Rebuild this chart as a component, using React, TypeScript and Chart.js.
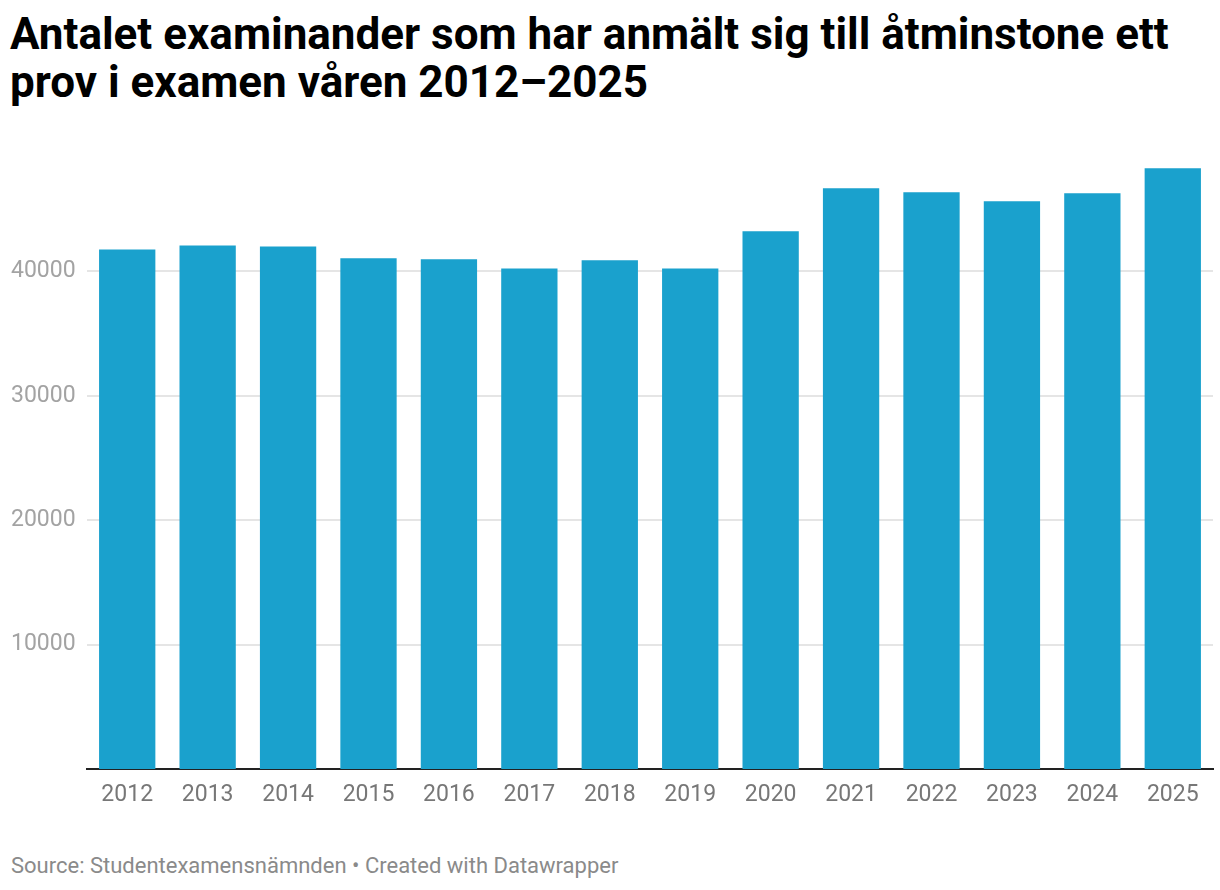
import React, { useEffect, useRef } from "react";
import { Chart, registerables } from "chart.js";

Chart.register(...registerables);

const years = ["2012", "2013", "2014", "2015", "2016", "2017", "2018", "2019", "2020", "2021", "2022", "2023", "2024", "2025"];
const candidates = [41770, 42090, 42010, 41050, 40970, 40240, 40890, 40240, 43220, 46680, 46360, 45630, 46280, 48290];
const yTicks = [10000, 20000, 30000, 40000];

const titleText = "Antalet examinander som har anmält sig till åtminstone ett prov i examen våren 2012–2025";
const sourceText = "Source: Studentexamensnämnden • Created with Datawrapper";

export default function App() {
  const ref = useRef<HTMLCanvasElement | null>(null);

  useEffect(() => {
    document.body.style.margin = "0";
    const ctx = ref.current!;
    const chart = new Chart(ctx, {
      type: "bar",
      data: {
        labels: years,
        datasets: [
          {
            data: candidates,
            backgroundColor: "#1aa1cd",
            barPercentage: 0.7,
            categoryPercentage: 1,
          },
        ],
      },
      options: {
        animation: false,
        responsive: false,
        maintainAspectRatio: false,
        layout: { padding: { left: 11, right: 7, top: 16, bottom: 0 } },
        plugins: { legend: { display: false }, tooltip: { enabled: false } },
        scales: {
          x: {
            grid: { display: false, drawTicks: false },
            border: { display: true, color: "#222222", width: 2 },
            ticks: {
              color: "#777777",
              font: { family: "Roboto", size: 23 },
              padding: 12,
              maxRotation: 0,
            },
            afterFit: (s: any) => {
              s.height = 62;
            },
          },
          y: {
            min: 0,
            max: 50000,
            border: { display: false },
            grid: { color: "#e5e5e5", lineWidth: 2, drawTicks: false },
            ticks: {
              color: "#a3a3a3",
              font: { family: "Roboto", size: 23 },
              crossAlign: "far",
              padding: 0,
              callback: (v: any) => String(v),
            },
            afterBuildTicks: (s: any) => {
              s.ticks = yTicks.map((v) => ({ value: v }));
            },
            afterFit: (s: any) => {
              s.width = 76;
            },
          },
        },
      },
    });
    return () => chart.destroy();
  }, []);

  return (
    <div style={{ position: "relative", width: 1220, height: 890, background: "#fff", fontFamily: "Roboto" }}>
      <div
        style={{
          position: "absolute",
          left: 10,
          top: 10,
          width: 1195,
          fontSize: 44,
          fontWeight: 700,
          lineHeight: "48px",
          color: "#000",
        }}
      >
        {titleText}
      </div>
      <canvas ref={ref} width={1220} height={700} style={{ position: "absolute", left: 0, top: 130.75, width: 1220, height: 700 }} />
      <div style={{ position: "absolute", left: 11, top: 852.5, fontSize: 22, color: "#8a8a8a", whiteSpace: "nowrap" }}>{sourceText}</div>
    </div>
  );
}
